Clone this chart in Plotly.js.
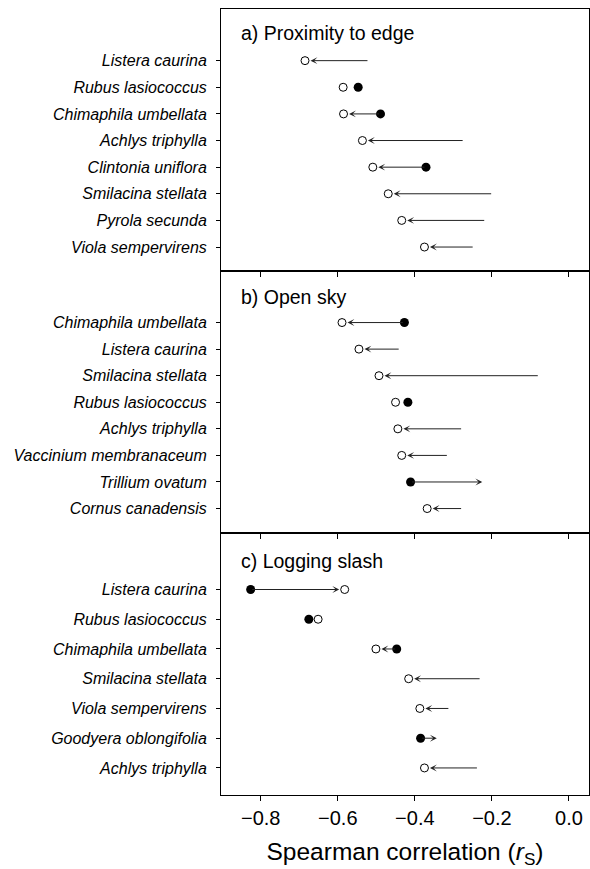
<!DOCTYPE html>
<html>
<head>
<meta charset="utf-8">
<script src="https://cdn.plot.ly/plotly-3.0.1.min.js"></script>
<style>html,body{margin:0;padding:0;background:#fff;}#chart{width:590px;height:869px;}</style>
</head>
<body>
<div id="chart"></div>
<script>
// ---------- DATA ----------
// Panel a) Proximity to edge
const speciesA = ['Listera caurina','Rubus lasiococcus','Chimaphila umbellata','Achlys triphylla','Clintonia uniflora','Smilacina stellata','Pyrola secunda','Viola sempervirens'];
const fromA = [-0.519, -0.547, -0.489, -0.272, -0.371, -0.198, -0.216, -0.246];
const toA   = [-0.685, -0.586, -0.585, -0.536, -0.509, -0.469, -0.434, -0.375];
const fromSigA = [false, true, true, false, true, false, false, false];
const toOpenA  = [true, true, true, true, true, true, true, true];
const arrowA   = [true, false, true, true, true, true, true, true];

// Panel b) Open sky
const speciesB = ['Chimaphila umbellata','Listera caurina','Smilacina stellata','Rubus lasiococcus','Achlys triphylla','Vaccinium membranaceum','Trillium ovatum','Cornus canadensis'];
const fromB = [-0.427, -0.438, -0.077, -0.418, -0.276, -0.313, -0.411, -0.276];
const toB   = [-0.589, -0.545, -0.493, -0.450, -0.444, -0.434, -0.225, -0.368];
const fromSigB = [true, false, false, true, false, false, true, false];
const toOpenB  = [true, true, true, true, true, true, false, true];
const arrowB   = [true, true, true, false, true, true, true, true];

// Panel c) Logging slash
const speciesC = ['Listera caurina','Rubus lasiococcus','Chimaphila umbellata','Smilacina stellata','Viola sempervirens','Goodyera oblongifolia','Achlys triphylla'];
const fromC = [-0.826, -0.675, -0.447, -0.228, -0.309, -0.385, -0.235];
const toC   = [-0.582, -0.651, -0.501, -0.416, -0.387, -0.343, -0.375];
const fromSigC = [true, true, true, false, false, true, false];
const toOpenC  = [true, true, true, true, true, false, true];
const arrowC   = [true, false, true, true, true, true, true];

const panelTitles = ['a) Proximity to edge', 'b) Open sky', 'c) Logging slash'];
const xTickVals = [-0.8, -0.6, -0.4, -0.2, 0.0];
const xAxisTitle = 'Spearman correlation (<i>r</i><sub>S</sub>)';

// ---------- BUILD ----------
const FONT = 'Liberation Sans, Arial, Helvetica, sans-serif';
const panels = [
  {sp: speciesA, from: fromA, to: toA, sig: fromSigA, open: toOpenA, arr: arrowA, xa: 'x',  ya: 'y',  yr: [7.9, -1.94], ty: 0.908},
  {sp: speciesB, from: fromB, to: toB, sig: fromSigB, open: toOpenB, arr: arrowB, xa: 'x2', ya: 'y2', yr: [7.92, -1.94], ty: 0.902},
  {sp: speciesC, from: fromC, to: toC, sig: fromSigC, open: toOpenC, arr: arrowC, xa: 'x3', ya: 'y3', yr: [6.91, -1.9], ty: 0.893}
];

const traces = [];
const annotations = [];
const layout = {
  width: 590, height: 869,
  margin: {l: 221, r: 1, t: 9, b: 74},
  paper_bgcolor: '#fff', plot_bgcolor: '#fff',
  showlegend: false,
  font: {family: FONT, color: '#000'}
};

const domains = [[2/3, 1], [1/3, 2/3], [0, 1/3]];

panels.forEach((p, k) => {
  const idx = p.sp.map((_, i) => i);
  // arrows
  p.sp.forEach((s, i) => {
    if (!p.arr[i]) return;
    annotations.push({
      xref: p.xa, yref: p.ya, axref: p.xa, ayref: p.ya,
      x: p.to[i], y: i, ax: p.from[i], ay: i,
      text: '', showarrow: true,
      arrowhead: 3, arrowsize: 1.15, arrowwidth: 1, arrowcolor: '#222',
      standoff: p.open[i] ? 5.5 : 0
    });
  });
  // filled (significant) circles at arrow tails
  traces.push({
    type: 'scatter', mode: 'markers', xaxis: p.xa, yaxis: p.ya,
    x: p.from.filter((v, i) => p.sig[i]),
    y: idx.filter(i => p.sig[i]),
    marker: {symbol: 'circle', size: 9, color: '#000', line: {width: 0}},
    hoverinfo: 'x+y', cliponaxis: false
  });
  // open circles at arrow heads
  traces.push({
    type: 'scatter', mode: 'markers', xaxis: p.xa, yaxis: p.ya,
    x: p.to.filter((v, i) => p.open[i]),
    y: idx.filter(i => p.open[i]),
    marker: {symbol: 'circle', size: 8, color: '#fff', line: {width: 1, color: '#000'}},
    hoverinfo: 'x+y', cliponaxis: false
  });
  // panel title
  annotations.push({
    xref: p.xa + ' domain', yref: p.ya + ' domain',
    x: 0.05, y: p.ty, xanchor: 'left', yanchor: 'middle',
    text: panelTitles[k], showarrow: false,
    font: {family: FONT, size: 19.5, color: '#000'}
  });

  const sfx = k === 0 ? '' : String(k + 1);
  layout['xaxis' + sfx] = {
    domain: [0, 1], anchor: p.ya, range: [-0.903, 0.052],
    tickvals: xTickVals, tickformat: '.1f',
    ticks: 'outside', ticklen: 5, tickwidth: 1, tickcolor: '#000',
    showticklabels: k === 2,
    tickfont: {family: FONT, size: 20, color: '#000'},
    showline: true, linecolor: '#000', linewidth: 1, mirror: true,
    showgrid: false, zeroline: false, fixedrange: true
  };
  if (k === 2) {
    layout['xaxis' + sfx].title = {text: xAxisTitle, font: {family: FONT, size: 24.5, color: '#000'}, standoff: 14};
  } else {
    layout['xaxis' + sfx].matches = 'x3';
  }
  layout['yaxis' + sfx] = {
    domain: domains[k], anchor: p.xa, range: p.yr,
    tickvals: idx, ticktext: p.sp,
    ticks: 'outside', ticklen: 4, tickwidth: 1, tickcolor: '#000',
    ticklabelstandoff: 6,
    tickfont: {family: FONT, size: 16, color: '#000', style: 'italic'},
    showline: true, linecolor: '#000', linewidth: 1, mirror: true,
    showgrid: false, zeroline: false, fixedrange: true
  };
});

layout.annotations = annotations;
Plotly.newPlot('chart', traces, layout, {displayModeBar: false, staticPlot: true});
</script>
</body>
</html>
